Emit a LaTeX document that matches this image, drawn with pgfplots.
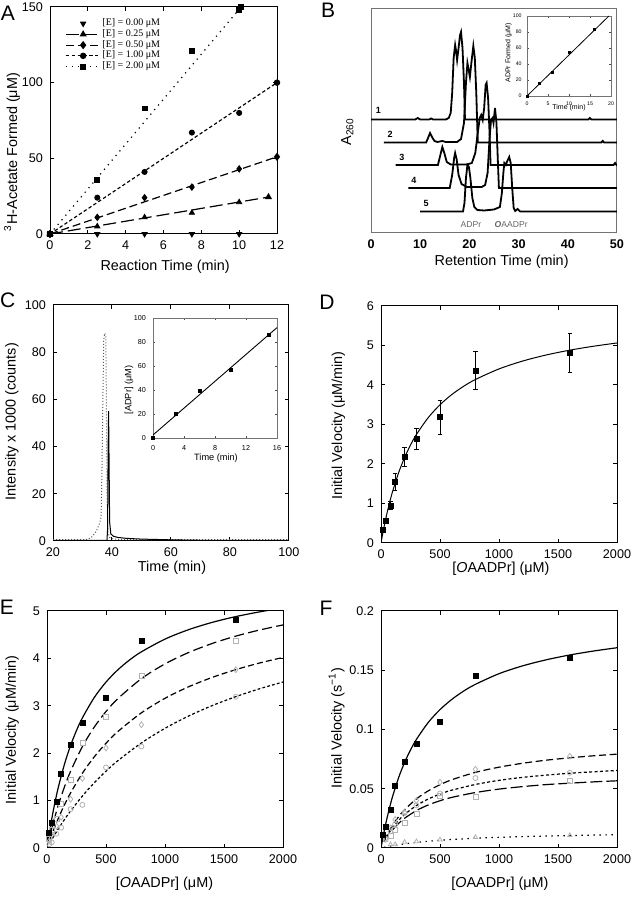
\documentclass[border=0pt]{standalone}
\usepackage{fontspec}
\setmainfont{Liberation Sans}
\newfontfamily\seriffont{Liberation Serif}
\usepackage{pgfplots}
\pgfplotsset{compat=1.18}

\newcommand{\fs}[1]{\fontsize{#1}{#1}\selectfont}

\pgfplotsset{
  panel/.style={
    scale only axis, anchor=south west,
    tick align=inside, tick pos=both,
    major tick length=1.8pt, minor tick length=0pt,
    axis line style={line width=0.5pt},
    every tick/.style={line width=0.5pt, black},
    tick label style={font=\fs{6.3}},
    label style={font=\fs{7.2}},
    /pgf/number format/assume math mode=true,
    /pgf/number format/1000 sep={},
    scaled ticks=false,
    clip mode=individual,
  },
  inset/.style={
    panel,
    major tick length=1pt,
    axis line style={line width=0.4pt, black!55},
    every tick/.style={line width=0.3pt, black!70},
  },
  fit/.style={black, line width=0.6pt, no marks},
  gm/.style={only marks, black!30, mark size=1.25pt, mark options={line width=0.4pt, fill=white}},
}

\begin{document}
\begin{tikzpicture}

% ---------------- A ----------------
\begin{axis}[panel, at={(25pt,332.5pt)}, width=113.5pt, height=113.5pt,
  xmin=0, xmax=12, ymin=0, ymax=150,
  xtick={0,2,...,12}, ytick={0,50,100,150},
  xlabel={Reaction Time (min)},
  ylabel={\textsuperscript{3}H-Acetate Formed (μM)},
  xlabel style={at={(axis description cs:0.507,-0.145)}, anchor=center},
  ylabel style={at={(axis description cs:-0.167,0.361)}, anchor=center},
  legend style={at={(axis description cs:0.04,0.975)}, anchor=north west,
    draw=none, fill=none, font=\seriffont\fs{5}, row sep=-1.2pt,
    nodes={inner sep=0.8pt}},
  legend cell align=left,
]
\addplot[black, only marks, mark=triangle*, mark size=1.5pt, mark options={rotate=180}]
  coordinates {(0,0) (2.5,0) (5,0) (7.5,0) (10,0)};
\addlegendentry{[E] = 0.00 μM}
\addplot[black, line width=0.6pt, dash pattern=on 6.5pt off 2.5pt, mark=triangle*, mark size=1.5pt, mark options={solid}]
  coordinates {(0,0) (11.55,24.4)};
\addlegendentry{[E] = 0.25 μM}
\addplot[black, line width=0.6pt, dash pattern=on 4pt off 2pt, mark=diamond*, mark size=1.6pt, mark options={solid}]
  coordinates {(0,0) (12,51)};
\addlegendentry{[E] = 0.50 μM}
\addplot[black, line width=0.6pt, dash pattern=on 1.7pt off 1.2pt, mark=*, mark size=1.3pt, mark options={solid}]
  coordinates {(0,0) (12,100)};
\addlegendentry{[E] = 1.00 μM}
\addplot[black, line width=0.6pt, dash pattern=on 0.6pt off 2.4pt, mark=square*, mark size=1.2pt, mark options={solid}]
  coordinates {(0,0) (10.1,150)};
\addlegendentry{[E] = 2.00 μM}
% measured points
\addplot[black, only marks, mark=triangle*, mark size=1.5pt, forget plot]
  coordinates {(0,0) (2.5,5) (5,11) (7.5,14) (10,21)};
\addplot[black, only marks, mark=diamond*, mark size=1.6pt, forget plot]
  coordinates {(0,0) (2.5,11) (5,24) (7.5,31) (10,43)};
\addplot[black, only marks, mark=*, mark size=1.3pt, forget plot]
  coordinates {(0,0) (2.5,24) (5,41) (7.5,67) (10,80)};
\addplot[black, only marks, mark=square*, mark size=1.2pt, forget plot]
  coordinates {(0,0) (2.5,36) (5,83) (7.5,121) (10,148)};
\end{axis}

% ---------------- B ----------------
\begin{axis}[panel, at={(185.5pt,333pt)}, width=123pt, height=112pt,
  xmin=0, xmax=50, ymin=0, ymax=224,
  xtick={0,10,...,50}, ytick=\empty, major tick length=0pt,
  tick label style={font=\fs{6.3}\bfseries},
  axis line style={black!55},
  xlabel={Retention Time (min)}, ylabel={A\textsubscript{260}},
  xlabel style={at={(axis description cs:0.531,-0.13)}, anchor=center},
  ylabel style={at={(axis description cs:-0.096,0.452)}, anchor=center},
]
\addplot[black, line width=0.9pt] coordinates {
  (0,113.5) (9.0,113.5) (9.5,115) (10.0,113.5) (11.8,113.5) (12.2,114.5) (12.6,113.5)
  (15.2,113.5) (15.8,115) (16.2,120) (16.5,140) (16.8,175) (17.1,188) (17.3,182)
  (17.5,173) (17.8,185) (18.1,198) (18.3,201) (18.6,185) (18.9,150) (19.1,113.5)
  (44.2,113.5) (44.5,115) (44.8,113.5) (50,113.5)};
\addplot[black, line width=0.9pt] coordinates {
  (2.6,90.5) (11.2,90.5) (11.6,95) (12.0,100) (12.4,96) (12.9,92) (13.5,91) (14.5,92)
  (15.2,91) (17.5,91) (18.3,94) (18.9,110) (19.3,150) (19.6,170) (19.9,162) (20.1,156)
  (20.4,170) (20.8,187) (21.1,175) (21.4,140) (21.7,90.5) (46.8,90.5) (47.1,92)
  (47.4,90.5) (50,90.5)};
\addplot[black, line width=0.9pt] coordinates {
  (5.0,68) (13.6,68) (14.1,78) (14.5,86) (14.9,80) (15.4,71) (16.2,68.5) (19.5,68.5)
  (20.5,70) (21.2,80) (21.7,100) (22.1,115) (22.4,118) (22.7,113) (23.0,125) (23.3,148)
  (23.5,150) (23.8,135) (24.1,100) (24.3,68) (49.3,68) (49.6,70) (49.9,68) (50,68)};
\addplot[black, line width=0.9pt] coordinates {
  (7.6,45) (16.0,45) (16.5,58) (16.9,75) (17.1,80) (17.4,74) (17.8,58) (18.4,49)
  (19.5,46) (22.5,46) (23.2,48) (23.7,60) (24.1,95) (24.4,113) (24.7,115) (24.9,110)
  (25.2,125) (25.5,110) (25.8,70) (26.0,45) (50,45)};
\addplot[black, line width=0.9pt] coordinates {
  (10.0,21.5) (18.7,21.5) (19.0,30) (19.3,55) (19.6,68) (19.9,66) (20.2,55) (20.6,35)
  (21.0,26) (21.6,23) (23,22.5) (25,23.5) (26.2,26) (26.6,40) (26.9,60) (27.1,70)
  (27.4,68) (27.7,72) (28.1,76) (28.4,70) (28.7,45) (29.0,25) (29.3,22) (29.8,24)
  (30.3,21.5) (50,21.5)};
\node[font=\fs{4.5}\bfseries] at (axis cs:1.5,123) {1};
\node[font=\fs{4.5}\bfseries] at (axis cs:3.9,99) {2};
\node[font=\fs{4.5}\bfseries] at (axis cs:6.3,76) {3};
\node[font=\fs{4.5}\bfseries] at (axis cs:8.7,53) {4};
\node[font=\fs{4.5}\bfseries] at (axis cs:11.2,30) {5};
\node[font=\fs{4.3}, text=black!60] at (axis cs:20.3,8.5) {ADPr};
\node[font=\fs{4.3}, text=black!60] at (axis cs:28.5,8.5) {\textbf{\textit{O}}AADPr};
\end{axis}

% B inset
\begin{axis}[inset, at={(263.5pt,401.5pt)}, width=42pt, height=40pt,
  xmin=0, xmax=20, ymin=0, ymax=100,
  xtick={0,5,...,20}, ytick={0,20,...,100},
  tick label style={font=\fs{2.6}}, label style={font=\fs{3.5}},
  xticklabel style={yshift=0.8pt}, yticklabel style={xshift=0.8pt},
  xlabel={Time (min)}, ylabel={ADPr Formed (μM)},
  xlabel style={at={(axis description cs:0.5,-0.15)}, anchor=center},
  ylabel style={at={(axis description cs:-0.22,0.54)}, anchor=center},
]
\addplot[black, line width=0.4pt] coordinates {(0,0) (19.5,100)};
\addplot[black, only marks, mark=square*, mark size=0.5pt]
  coordinates {(0,0) (3,16) (6,30) (10,54) (16,83)};
\end{axis}

% ---------------- C ----------------
\begin{axis}[panel, at={(26.5pt,179pt)}, width=118pt, height=118pt,
  xmin=20, xmax=100, ymin=0, ymax=100,
  xtick={20,40,...,100}, ytick={0,20,...,100},
  xlabel={Time (min)}, ylabel={Intensity x 1000 (counts)},
  xlabel style={at={(axis description cs:0.504,-0.114)}, anchor=center},
  ylabel style={at={(axis description cs:-0.174,0.506)}, anchor=center},
]
\addplot[black!65, line width=0.5pt, densely dotted] coordinates {
  (20,0.6) (31,0.6) (32,0.8) (33,1.5) (34,3) (35,5) (35.8,7.5) (36.3,10) (36.6,30)
  (36.9,60) (37.2,85) (37.5,88) (37.9,87) (38.1,60) (38.3,20) (38.6,4) (39.2,1.5)
  (40.5,0.8) (45,0.6) (100,0.6)};
\addplot[black, line width=0.5pt] coordinates {
  (20,0.3) (38.3,0.3) (38.5,5) (38.7,40) (38.85,55) (39.0,35) (39.2,8) (39.6,3)
  (40.5,2) (42,1.5) (45,1.1) (50,0.8) (60,0.5) (70,0.3) (100,0.3)};
\end{axis}

% C inset
\begin{axis}[inset, at={(76.5pt,230.5pt)}, width=62pt, height=60pt,
  xmin=0, xmax=16, ymin=0, ymax=100,
  xtick={0,4,...,16}, ytick={0,20,...,100},
  tick label style={font=\fs{3.6}}, label style={font=\fs{4.6}},
  xlabel={Time (min)}, ylabel={[ADPr] (μM)},
  xlabel style={at={(axis description cs:0.508,-0.164)}, anchor=center},
  ylabel style={at={(axis description cs:-0.194,0.4)}, anchor=center},
]
\addplot[black, line width=0.45pt] coordinates {(0,2.5) (16,92)};
\addplot[black, only marks, mark=square*, mark size=0.7pt]
  coordinates {(0,0) (3,20) (6,39) (10,57) (15,86)};
\end{axis}

% ---------------- D ----------------
\begin{axis}[panel, at={(190.5pt,178pt)}, width=118pt, height=118.5pt,
  xmin=0, xmax=2000, ymin=0, ymax=6,
  xtick={0,500,...,2000}, ytick={0,1,...,6},
  xlabel={[\textit{O}AADPr] (μM)}, ylabel={Initial Velocity (μM/min)},
  xlabel style={at={(axis description cs:0.508,-0.108)}, anchor=center},
  ylabel style={at={(axis description cs:-0.181,0.496)}, anchor=center},
]
\addplot[fit, line width=0.5pt, smooth] coordinates {
  (0,0) (10,0.165) (25,0.397) (50,0.744) (75,1.05) (100,1.322) (150,1.785) (200,2.164)
  (250,2.479) (300,2.746) (400,3.173) (500,3.5) (600,3.758) (700,3.967) (800,4.139)
  (1000,4.407) (1200,4.606) (1400,4.76) (1600,4.882) (1800,4.981) (2000,5.064)};
\addplot[black, only marks, mark=square*, mark size=1.25pt,
  error bars/.cd, y dir=both, y explicit,
  error bar style={line width=0.5pt},
  error mark options={rotate=90, mark size=1.1pt, line width=0.5pt}]
  coordinates {
  (20,0.33) +- (0,0.03) (40,0.55) +- (0,0.05) (80,0.95) +- (0,0.09)
  (120,1.55) +- (0,0.22) (200,2.18) +- (0,0.245) (300,2.63) +- (0,0.275)
  (500,3.18) +- (0,0.435) (800,4.36) +- (0,0.48) (1600,4.80) +- (0,0.495)};
\end{axis}

% ---------------- E ----------------
\begin{axis}[panel, at={(23.5pt,25.5pt)}, width=118pt, height=118.5pt,
  xmin=0, xmax=2000, ymin=0, ymax=5,
  xtick={0,500,...,2000}, ytick={0,1,...,5},
  xlabel={[\textit{O}AADPr] (μM)}, ylabel={Initial Velocity (μM/min)},
  xlabel style={at={(axis description cs:0.498,-0.149)}, anchor=center},
  ylabel style={at={(axis description cs:-0.148,0.498)}, anchor=center},
]
\addplot[fit, smooth] coordinates {
  (0,0) (10,0.165) (25,0.397) (50,0.744) (75,1.05) (100,1.322) (150,1.785) (200,2.164)
  (250,2.479) (300,2.746) (400,3.173) (500,3.5) (600,3.758) (700,3.967) (800,4.139)
  (1000,4.407) (1200,4.606) (1400,4.76) (1600,4.882) (1800,4.981) (2000,5.064)};
\addplot[fit, smooth, dash pattern=on 5pt off 2.2pt] coordinates {
  (25,0.266) (50,0.509) (100,0.937) (150,1.303) (200,1.62) (300,2.14) (400,2.549)
  (500,2.879) (600,3.15) (800,3.572) (1000,3.884) (1200,4.124) (1400,4.315)
  (1600,4.47) (1800,4.598) (2000,4.706)};
\addplot[fit, smooth, dash pattern=on 3pt off 1.6pt] coordinates {
  (25,0.178) (50,0.345) (100,0.65) (150,0.921) (200,1.163) (300,1.578) (400,1.922)
  (500,2.21) (600,2.456) (800,2.852) (1000,3.158) (1200,3.401) (1400,3.599)
  (1600,3.763) (1800,3.902) (2000,4.02)};
\addplot[fit, smooth, dash pattern=on 1.4pt off 1.1pt] coordinates {
  (25,0.111) (50,0.218) (100,0.42) (150,0.607) (200,0.782) (300,1.097) (400,1.375)
  (500,1.621) (600,1.841) (800,2.216) (1000,2.525) (1200,2.784) (1400,3.004)
  (1600,3.193) (1800,3.358) (2000,3.502)};
\addplot[gm, mark=square] coordinates {
  (20,0.2) (40,0.38) (80,0.62) (120,0.94) (200,1.44) (300,2.21) (500,2.77) (800,3.64) (1600,4.37)};
\addplot[gm, mark=diamond, mark size=1.45pt] coordinates {
  (20,0.15) (40,0.28) (80,0.46) (120,0.65) (200,1.03) (300,1.47) (500,2.11) (800,2.6) (1600,3.76)};
\addplot[gm, mark=o] coordinates {
  (20,0.08) (40,0.12) (80,0.3) (120,0.43) (200,0.82) (300,0.91) (500,1.7) (800,2.14) (1600,3.19)};
\addplot[black, only marks, mark=square*, mark size=1.25pt] coordinates {
  (20,0.32) (40,0.53) (80,0.97) (120,1.56) (200,2.18) (300,2.63) (500,3.17) (800,4.37) (1600,4.81)};
\end{axis}

% ---------------- F ----------------
\begin{axis}[panel, at={(190.5pt,25.5pt)}, width=118pt, height=118.5pt,
  xmin=0, xmax=2000, ymin=0, ymax=0.2,
  xtick={0,500,...,2000}, ytick={0,0.05,0.1,0.15,0.2},
  yticklabels={0,0.05,0.1,0.15,0.2},
  xlabel={[\textit{O}AADPr] (μM)}, ylabel={Initial Velocity (s\textsuperscript{−1})},
  xlabel style={at={(axis description cs:0.504,-0.149)}, anchor=center},
  ylabel style={at={(axis description cs:-0.188,0.506)}, anchor=center},
]
\addplot[fit, smooth] coordinates {
  (0,0) (10,0.0055) (25,0.0132) (50,0.0248) (75,0.035) (100,0.0441) (150,0.0596)
  (200,0.0722) (250,0.0827) (300,0.0916) (400,0.1059) (500,0.1168) (600,0.1254)
  (700,0.1324) (800,0.1381) (1000,0.1471) (1200,0.1537) (1400,0.1588) (1600,0.1629)
  (1800,0.1662) (2000,0.169)};
\addplot[fit, smooth, dash pattern=on 3.5pt off 1.8pt] coordinates {
  (25,0.0058) (50,0.0109) (100,0.0195) (150,0.0265) (200,0.0323) (300,0.0414)
  (400,0.0482) (500,0.0534) (600,0.0576) (800,0.0638) (1000,0.0682) (1200,0.0715)
  (1400,0.0741) (1600,0.0761) (1800,0.0778) (2000,0.0792)};
\addplot[fit, smooth, dash pattern=on 1.5pt off 1.2pt] coordinates {
  (25,0.0052) (50,0.0098) (100,0.0174) (150,0.0234) (200,0.0283) (300,0.0358)
  (400,0.0413) (500,0.0455) (600,0.0488) (800,0.0536) (1000,0.0571) (1200,0.0596)
  (1400,0.0615) (1600,0.0631) (1800,0.0643) (2000,0.0654)};
\addplot[fit, smooth, dash pattern=on 6pt off 2pt] coordinates {
  (100,0.0155) (150,0.0208) (200,0.0251) (300,0.0316) (400,0.0363) (500,0.0399)
  (600,0.0427) (800,0.0468) (1000,0.0497) (1200,0.0518) (1400,0.0535) (1600,0.0547)
  (1800,0.0558) (2000,0.0567)};
\addplot[fit, smooth, dash pattern=on 0.7pt off 2.3pt] coordinates {
  (25,0.0006) (50,0.0011) (100,0.002) (200,0.0035) (300,0.0047) (400,0.0057)
  (500,0.0065) (600,0.0072) (800,0.0082) (1000,0.009) (1200,0.0096) (1400,0.0101)
  (1600,0.0105) (1800,0.0109) (2000,0.0112)};
\addplot[gm, mark=diamond, mark size=1.45pt] coordinates {
  (40,0.008) (80,0.017) (120,0.024) (200,0.03) (300,0.04) (500,0.0555) (800,0.0665) (1600,0.0775)};
\addplot[gm, mark=o] coordinates {
  (40,0.007) (80,0.014) (120,0.02) (200,0.0295) (300,0.036) (500,0.046) (800,0.059) (1600,0.0635)};
\addplot[gm, mark=square] coordinates {
  (80,0.01) (120,0.0155) (200,0.021) (300,0.029) (500,0.044) (800,0.0435) (1600,0.0567)};
\addplot[gm, mark=triangle] coordinates {
  (80,0.003) (120,0.003) (200,0.005) (300,0.0055) (500,0.007) (800,0.009) (1600,0.0107)};
\addplot[black, only marks, mark=square*, mark size=1.25pt] coordinates {
  (20,0.011) (40,0.018) (80,0.032) (120,0.052) (200,0.073) (300,0.088) (500,0.106) (800,0.145) (1600,0.16)};
\end{axis}

% panel letters
\node[font=\fs{10.5}] at (4pt,443pt) {A};
\node[font=\fs{10.5}] at (164pt,444.5pt) {B};
\node[font=\fs{10.5}] at (3.8pt,299.5pt) {C};
\node[font=\fs{10.5}] at (163.5pt,298.5pt) {D};
\node[font=\fs{10.5}] at (3.5pt,146pt) {E};
\node[font=\fs{10.5}] at (163pt,145.5pt) {F};

\pgfresetboundingbox
\path[use as bounding box] (0,0) rectangle (316.5pt,449.5pt);
\end{tikzpicture}
\end{document}
